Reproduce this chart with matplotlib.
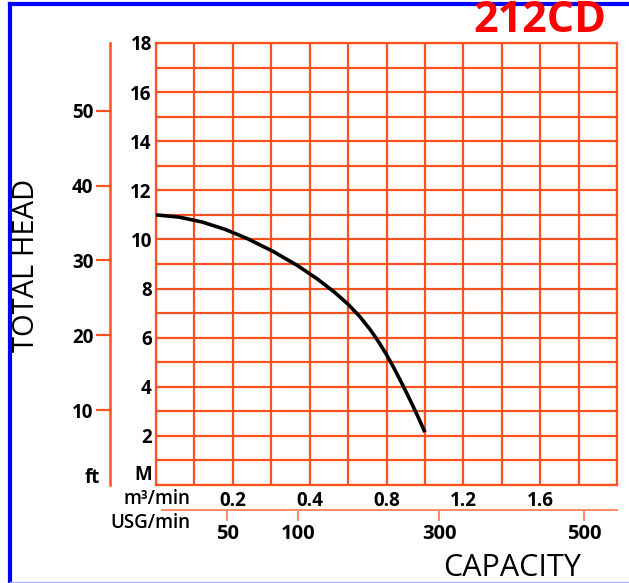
import matplotlib.pyplot as plt
from matplotlib.lines import Line2D

# pump curve, x in grid columns (capacity scale), y in metres
flow_col = [0, 0.6, 1.2, 1.8, 2.37, 3.05, 3.68, 4.2, 4.64, 5.0, 5.31, 5.57, 5.8,
            6.0, 6.18, 6.36, 6.53, 6.66, 6.79, 6.9, 7.0]
head_m = [11.0, 10.91, 10.71, 10.41, 10.04, 9.51, 8.94, 8.39, 7.86, 7.36, 6.85, 6.34, 5.82,
          5.31, 4.8, 4.26, 3.73, 3.31, 2.88, 2.5, 2.15]

m_ticks = [0, 2, 4, 6, 8, 10, 12, 14, 16, 18]
m_labels = ['M', '2', '4', '6', '8', '10', '12', '14', '16', '18']
ft_ticks = [10, 20, 30, 40, 50]
cap_ticks = [2, 4, 6, 8, 10]
cap_labels = ['0.2', '0.4', '0.8', '1.2', '1.6']
usg_ticks = [1.85, 3.70, 7.37, 11.14]
usg_labels = ['50', '100', '300', '500']

grid_c = '#ff5020'
usg_c = '#ff8a66'
font = 'Open Sans'
plt.rcParams['font.family'] = [font, 'DejaVu Sans']

W, H = 629, 583
fig = plt.figure(figsize=(W / 100, H / 100), dpi=100)

def box(l, t, r, b):
    return [l / W, 1 - b / H, (r - l) / W, (b - t) / H]

ax = fig.add_axes(box(156, 43, 617, 485))
ax.set_xlim(0, 12)
ax.set_ylim(0, 18)
ax.set_xticks(range(13), minor=True)
ax.set_yticks(range(19), minor=True)
ax.set_xticks(cap_ticks)
ax.set_xticklabels(cap_labels)
ax.set_yticks(m_ticks)
ax.set_yticklabels(m_labels)
ax.grid(True, which='both', color=grid_c, lw=1.6)
ax.tick_params(which='both', length=0)
ax.tick_params(axis='y', pad=3, labelsize=13.5)
ax.tick_params(axis='x', pad=4, labelsize=13.5)
for t in ax.get_yticklabels() + ax.get_xticklabels():
    t.set_fontweight('bold')
ax.get_yticklabels()[0].set_va('bottom')
for s in ax.spines.values():
    s.set_color(grid_c)
    s.set_linewidth(1.6)
ax.plot(flow_col, head_m, color='black', lw=2.6, solid_capstyle='butt',
        solid_joinstyle='round', zorder=5)

# feet scale
axf = fig.add_axes(box(110, 43, 111, 485))
axf.set_ylim(0, 18 * 3.2808)
axf.set_xticks([])
axf.set_yticks(ft_ticks)
axf.tick_params(axis='y', length=10, width=1.6, color=grid_c, pad=2, labelsize=13.5)
for t in axf.get_yticklabels():
    t.set_fontweight('bold')
for k in ['top', 'right', 'bottom']:
    axf.spines[k].set_visible(False)
axf.spines['left'].set_color(grid_c)
axf.spines['left'].set_linewidth(1.8)
axf.patch.set_visible(False)

# USG scale
axu = fig.add_axes(box(156, 509, 617, 510))
axu.set_xlim(0, 12)
axu.set_yticks([])
axu.set_xticks(usg_ticks)
axu.set_xticklabels(usg_labels)
axu.tick_params(axis='x', length=8, width=1.4, color=usg_c, pad=2, labelsize=14.5)
for t in axu.get_xticklabels():
    t.set_fontweight('bold')
for k in ['top', 'right', 'left']:
    axu.spines[k].set_visible(False)
axu.spines['bottom'].set_color(usg_c)
axu.spines['bottom'].set_linewidth(1.4)
axu.spines['bottom'].set_bounds(0.15, 12)
axu.patch.set_visible(False)

fig.text(92 / W, 1 - 478 / H, 'ft', ha='center', va='center', fontsize=13.5, fontweight='bold')
fig.text(190 / W, 1 - 499 / H, 'm³/min', ha='right', va='center', fontsize=13.5,
         fontweight='semibold')
fig.text(190 / W, 1 - 523 / H, 'USG/min', ha='right', va='center', fontsize=13.5,
         fontweight='semibold')
fig.text(27 / W, 1 - 265 / H, 'TOTAL HEAD', rotation=90, ha='center', va='center', fontsize=21)
fig.text(512 / W, 1 - 576 / H, 'CAPACITY', ha='center', va='baseline', fontsize=22)
fig.text(540 / W, 1 - 21 / H, '212CD', ha='center', va='center', fontsize=31,
         fontweight='bold', color='#ff0000')

# frame
fig.add_artist(Line2D([10 / W, 10 / W], [1 - 4 / H, 1 - 582 / H], color='#0000ff', lw=3,
                      transform=fig.transFigure))
fig.add_artist(Line2D([10 / W, 1], [1 - 4 / H, 1 - 4 / H], color='#0000ff', lw=3,
                      transform=fig.transFigure))
fig.add_artist(Line2D([10 / W, 1], [1 - 582 / H, 1 - 582 / H], color='#b0b0ff', lw=1,
                      transform=fig.transFigure))

fig.savefig('out.png', dpi=100)
